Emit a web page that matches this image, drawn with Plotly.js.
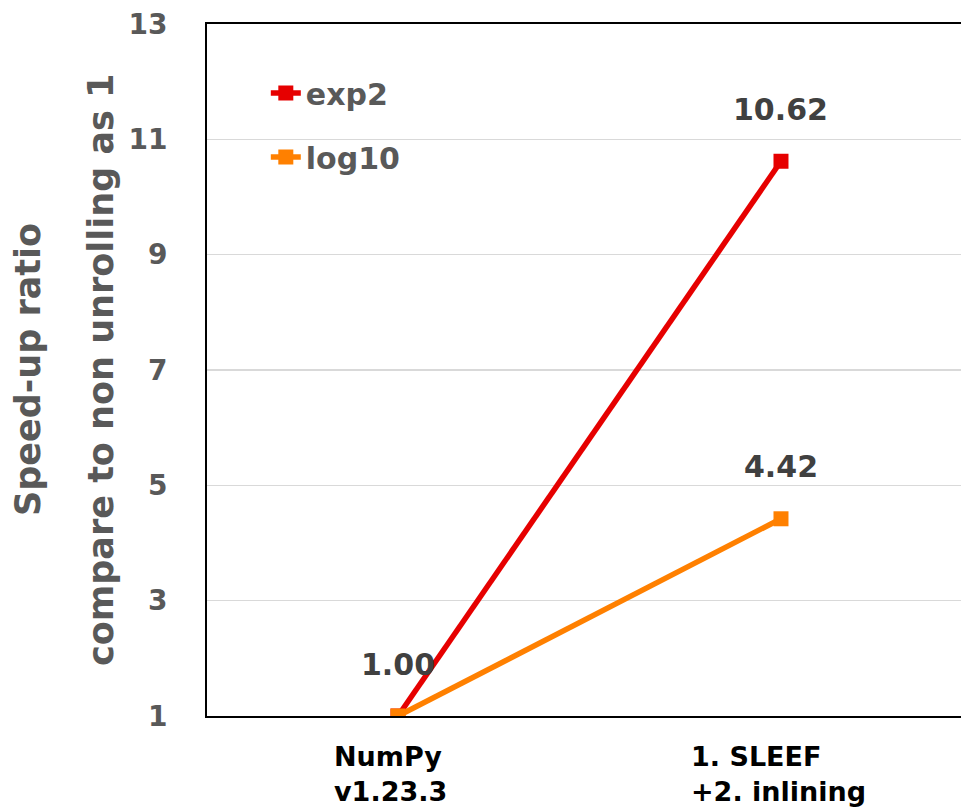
<!DOCTYPE html>
<html>
<head>
<meta charset="utf-8">
<script src="https://cdn.plot.ly/plotly-3.0.1.min.js"></script>
<style>html,body{margin:0;padding:0;background:#fff;}#chart{width:961px;height:812px;}</style>
</head>
<body>
<div id="chart"></div>
<script>
const categories = ["NumPy<br>v1.23.3", "1. SLEEF<br>+2. inlining"];
const seriesNames = ["exp2", "log10"];
const exp2Values = [1.00, 10.62];
const log10Values = [1.00, 4.42];
const labelsExp2 = ["", "10.62"];
const labelsLog10 = ["1.00", "4.42"];
const yTicks = [1, 3, 5, 7, 9, 11, 13];
const colors = ["#E60000", "#FF8000"];

const FONT = "DejaVu Sans";
const idx = [0, 1];

const traces = [
  {x: idx, y: exp2Values, name: seriesNames[0], legendgroup: "a", type: "scatter", mode: "lines+markers",
   line: {color: colors[0], width: 5.5}, marker: {symbol: "square", size: 15, color: colors[0]}},
  {x: idx, y: log10Values, name: seriesNames[1], legendgroup: "b", type: "scatter", mode: "lines+markers",
   line: {color: colors[1], width: 5.5}, marker: {symbol: "square", size: 15, color: colors[1]}}
];

const annotations = [];
function addLabels(vals, labels) {
  vals.forEach((v, i) => {
    if (!labels[i]) return;
    annotations.push({x: idx[i], y: v, xref: "x", yref: "y", text: labels[i], showarrow: false,
      xanchor: "center", yanchor: "middle", yshift: 52,
      font: {family: FONT, size: 30, color: "#404040", weight: "bold"}});
  });
}
addLabels(exp2Values, labelsExp2);
addLabels(log10Values, labelsLog10);

categories.forEach((c, i) => {
  annotations.push({x: idx[i], y: -0.084, xref: "x", yref: "paper", text: c, showarrow: false,
    xanchor: "center", yanchor: "middle", align: "left", xshift: i === 0 ? -8 : -2,
    font: {family: FONT, size: 27, color: "#000000", weight: "bold"}});
});

annotations.push({x: -0.2374, y: 0.5, xref: "paper", yref: "paper", text: "Speed-up ratio", showarrow: false,
  textangle: -90, xanchor: "center", yanchor: "middle",
  font: {family: FONT, size: 35, color: "#595959", weight: "bold"}});
annotations.push({x: -0.1406, y: 0.5, xref: "paper", yref: "paper", text: "compare to non unrolling as 1", showarrow: false,
  textangle: -90, xanchor: "center", yanchor: "middle",
  font: {family: FONT, size: 35, color: "#595959", weight: "bold"}});

const layout = {
  width: 961, height: 812,
  margin: {l: 207, r: 0, t: 24, b: 96},
  paper_bgcolor: "#ffffff", plot_bgcolor: "#ffffff",
  showlegend: true,
  legend: {x: 0.078, y: 0.938, xanchor: "left", yanchor: "top", bgcolor: "rgba(0,0,0,0)",
    traceorder: "grouped", tracegroupgap: 22,
    font: {family: FONT, size: 30, color: "#595959", weight: "bold"}},
  xaxis: {range: [-0.4987, 1.47], showgrid: false, zeroline: false, showticklabels: false,
    showline: true, linecolor: "#000000", linewidth: 2, mirror: true, ticks: "", fixedrange: true},
  yaxis: {range: [1, 13], tickvals: yTicks, ticktext: yTicks.map(String), showgrid: true,
    gridcolor: "#d9d9d9", gridwidth: 1.5, zeroline: false, showline: true, linecolor: "#000000", linewidth: 2,
    ticks: "outside", ticklen: 32, tickcolor: "rgba(0,0,0,0)",
    tickfont: {family: FONT, size: 28, color: "#595959", weight: "bold"}},
  annotations: annotations
};

Plotly.newPlot("chart", traces, layout, {displayModeBar: false, staticPlot: true});
</script>
</body>
</html>
